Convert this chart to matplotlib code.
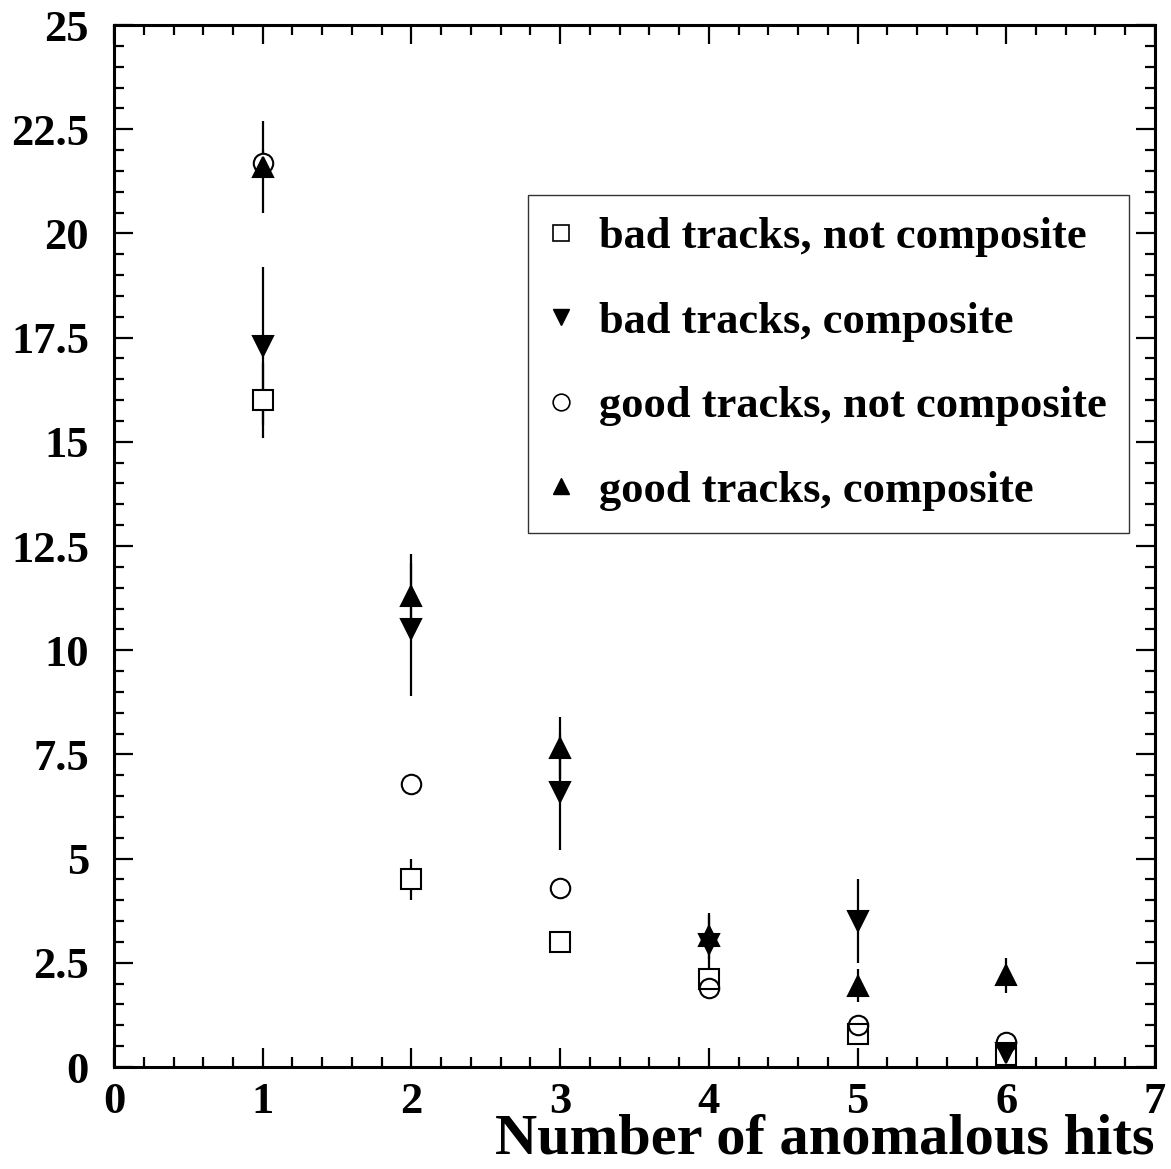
import matplotlib
matplotlib.use("Agg")
import matplotlib.pyplot as plt
from matplotlib.lines import Line2D
from matplotlib.ticker import MultipleLocator

# Number of anomalous hits per track
hits = [1, 2, 3, 4, 5, 6]

# bad tracks, not composite
bad_nc = [16.0, 4.5, 3.0, 2.1, 0.8, 0.3]
bad_nc_err = [0.9, 0.5, 0.15, 0.2, 0.1, 0.1]

# bad tracks, composite
bad_c = [17.3, 10.5, 6.6, 2.95, 3.5, 0.33]
bad_c_err = [1.9, 1.6, 1.4, 0.7, 1.0, 0.2]

# good tracks, not composite
good_nc = [21.7, 6.8, 4.3, 1.9, 1.0, 0.6]
good_nc_err = [0.3, 0.2, 0.15, 0.1, 0.1, 0.1]

# good tracks, composite
good_c = [21.6, 11.3, 7.65, 3.15, 1.95, 2.2]
good_c_err = [1.1, 1.0, 0.75, 0.55, 0.4, 0.42]

labels = ["bad tracks, not composite", "bad tracks, composite",
          "good tracks, not composite", "good tracks, composite"]
yticks = [0, 2.5, 5, 7.5, 10, 12.5, 15, 17.5, 20, 22.5, 25]
yticklabels = ["0", "2.5", "5", "7.5", "10", "12.5", "15", "17.5",
               "20", "22.5", "25"]

plt.rcParams["font.family"] = ["Liberation Serif", "DejaVu Serif"]
plt.rcParams["font.weight"] = "bold"

fig = plt.figure(figsize=(11.71, 11.69), dpi=100)
ax = fig.add_axes([0.0974, 0.08725, 0.8889, 0.89135])

ms = 14
ew = 1.5
series = [
    (bad_nc, bad_nc_err, "s", False),
    (bad_c, bad_c_err, "v", True),
    (good_nc, good_nc_err, "o", False),
    (good_c, good_c_err, "^", True),
]

# error bars underneath everything
for y, e, m, filled in series:
    ax.errorbar(hits, y, yerr=e, fmt="none", ecolor="black",
                elinewidth=1.6, capsize=0, zorder=1)

# white fill for open markers so bars stop at the marker edge
for y, e, m, filled in series:
    if not filled:
        ax.plot(hits, y, ls="none", marker=m, ms=ms, mfc="white",
                mec="none", zorder=2)

# marker outlines / filled markers
for y, e, m, filled in series:
    if filled:
        ax.plot(hits, y, ls="none", marker=m, ms=ms, mfc="black",
                mec="black", mew=ew, zorder=4)
    else:
        ax.plot(hits, y, ls="none", marker=m, ms=ms, mfc="none",
                mec="black", mew=ew, zorder=3)

ax.set_xlim(0, 7)
ax.set_ylim(0, 25)
ax.xaxis.set_major_locator(MultipleLocator(1))
ax.xaxis.set_minor_locator(MultipleLocator(0.2))
ax.yaxis.set_minor_locator(MultipleLocator(0.5))
ax.set_yticks(yticks)
ax.set_yticklabels(yticklabels)

ax.tick_params(which="both", direction="in", top=True, right=True,
               width=1.6, labelsize=32)
ax.tick_params(which="major", length=14)
ax.tick_params(which="minor", length=7)
ax.tick_params(axis="x", which="major", pad=11)
ax.tick_params(axis="y", which="major", pad=18)
for lab in ax.get_xticklabels() + ax.get_yticklabels():
    lab.set_fontweight("bold")
for sp in ax.spines.values():
    sp.set_linewidth(2.2)

ax.set_xlabel("Number of anomalous hits", fontsize=42, fontweight="bold",
              loc="right", labelpad=-6)

handles = [
    Line2D([], [], ls="none", marker="s", ms=12, mfc="white", mec="black", mew=1.2),
    Line2D([], [], ls="none", marker="v", ms=12, mfc="black", mec="black"),
    Line2D([], [], ls="none", marker="o", ms=12, mfc="white", mec="black", mew=1.2),
    Line2D([], [], ls="none", marker="^", ms=12, mfc="black", mec="black"),
]
leg = ax.legend(handles, labels, loc="upper left",
                bbox_to_anchor=(0.3977, 0.8369), prop={"size": 32, "weight": "bold"},
                frameon=True, fancybox=False, edgecolor="black",
                borderpad=0.5, labelspacing=1.0, handlelength=0.5,
                handletextpad=0.6, borderaxespad=0.0)
leg.get_frame().set_linewidth(1.0)

fig.savefig("out.png", dpi=100)
